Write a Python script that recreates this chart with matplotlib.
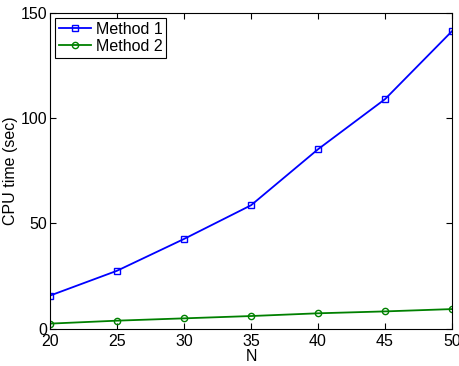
import matplotlib
matplotlib.use("Agg")
import matplotlib.pyplot as plt

N = [20, 25, 30, 35, 40, 45, 50]
method1 = [15.7, 27.5, 42.6, 58.6, 85.2, 109.0, 141.3]
method2 = [2.4, 3.8, 4.9, 6.0, 7.3, 8.2, 9.3]

plt.rcParams["font.family"] = ["Liberation Sans", "DejaVu Sans"]
plt.rcParams["font.size"] = 11.5

fig = plt.figure(figsize=(4.6, 3.66), dpi=100)
ax = fig.add_axes([0.1087, 0.102, 0.874, 0.863])

ax.plot(N, method1, color="#0000ff", marker="s", ms=4, mfc="none", mew=1.0, lw=1.3, label="Method 1")
ax.plot(N, method2, color="#008000", marker="o", ms=4.5, mfc="none", mew=1.0, lw=1.3, label="Method 2")

ax.set_xlim(20, 50)
ax.set_ylim(0, 150)
ax.set_xticks(N)
ax.set_yticks([0, 50, 100, 150])
ax.tick_params(direction="in", top=True, right=True, length=4, width=0.8)
ax.tick_params(axis="x", pad=4)
ax.tick_params(axis="y", pad=2)
for s in ax.spines.values():
    s.set_linewidth(0.8)

ax.set_xlabel("N", labelpad=0)
ax.set_ylabel("CPU time (sec)", labelpad=2)

leg = ax.legend(loc="upper left", fancybox=False, framealpha=1, edgecolor="black",
                borderaxespad=0.3, handlelength=2.0, handletextpad=0.3, borderpad=0.25,
                labelspacing=0.15)
leg.get_frame().set_linewidth(0.8)

fig.savefig("out.png", dpi=100)
